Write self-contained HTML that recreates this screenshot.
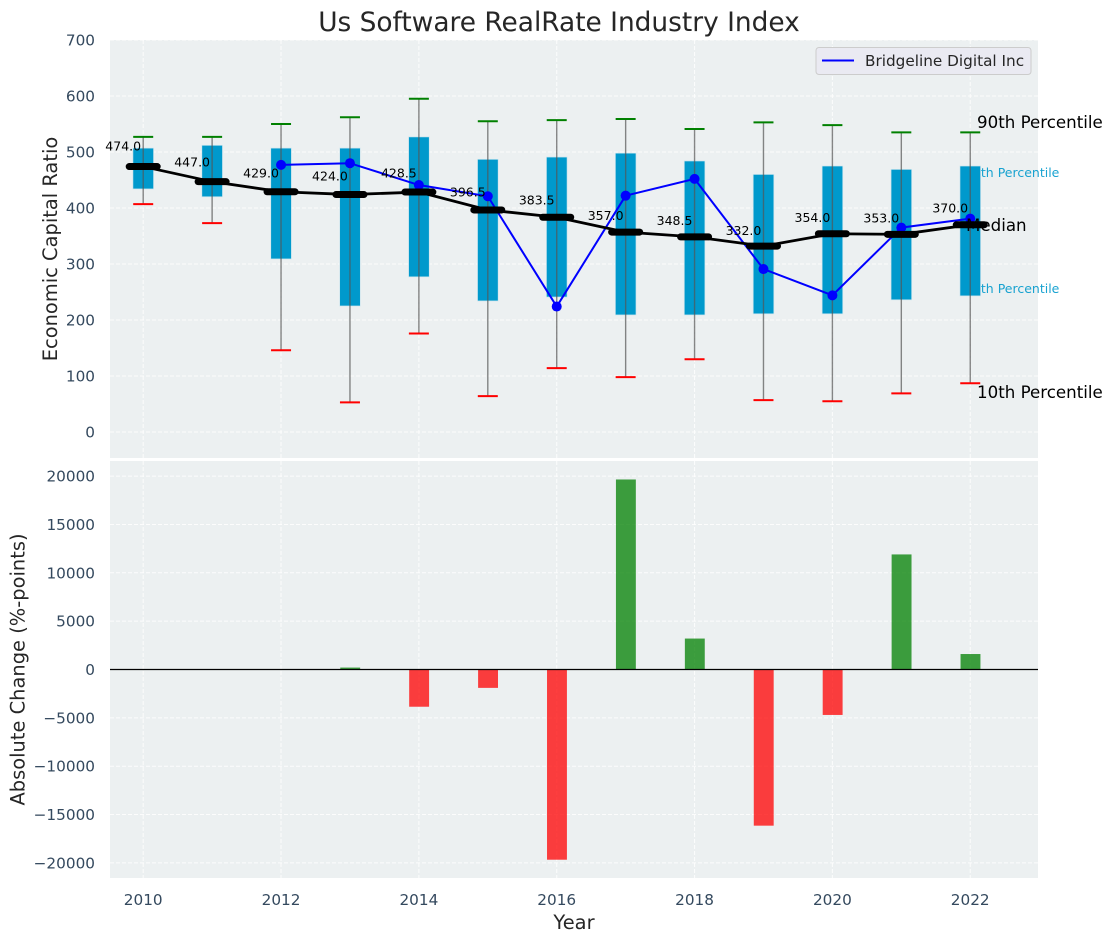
<!DOCTYPE html>
<html>
<head>
<meta charset="utf-8">
<title>Us Software RealRate Industry Index</title>
<style>
html,body{margin:0;padding:0;background:#fff;}
svg{display:block;font-family:"DejaVu Sans","Liberation Sans",sans-serif;}
</style>
</head>
<body>
<svg id="chart" xmlns="http://www.w3.org/2000/svg" width="1112" height="942" viewBox="0 0 1112 942">
  <rect x="0" y="0" width="1112" height="942" fill="#ffffff"/>
  <rect x="110" y="40" width="928" height="418" fill="#ecf0f1"/>
  <rect x="110" y="461" width="928" height="417" fill="#ecf0f1"/>
  <g id="grid"></g>
  <g id="behind">
    <text x="965" y="177" font-size="12.5" fill="#0099cc" fill-opacity="0.9">75th Percentile</text>
    <text x="965" y="293" font-size="12.5" fill="#0099cc" fill-opacity="0.9">25th Percentile</text>
  </g>
  <g id="marks"></g>
  <g id="bars"></g>
  <line x1="110" x2="1038" y1="669.5" y2="669.5" stroke="#000" stroke-width="1.3"/>
  <g id="ticks" font-size="15.28" fill="#34495e"></g>
  <text x="559" y="31" font-size="26.4" text-anchor="middle" fill="#262626">Us Software RealRate Industry Index</text>
  <text transform="translate(57,249) rotate(-90)" font-size="19.44" text-anchor="middle" fill="#262626">Economic Capital Ratio</text>
  <text transform="translate(24.5,669.5) rotate(-90)" font-size="19.44" text-anchor="middle" fill="#262626">Absolute Change (%-points)</text>
  <text x="574" y="929" font-size="19.44" text-anchor="middle" fill="#262626">Year</text>
  <text x="977" y="128" font-size="16.67" fill="#000">90th Percentile</text>
  <text x="966" y="231" font-size="16.67" fill="#000">Median</text>
  <text x="977" y="398" font-size="16.67" fill="#000">10th Percentile</text>
  <g>
    <rect x="816" y="47.5" width="215" height="27" rx="3" fill="#eaeaf2" stroke="#cccccc" stroke-width="1"/>
    <line x1="822" x2="854" y1="60.5" y2="60.5" stroke="#0000ff" stroke-width="2"/>
    <text x="865" y="66" font-size="15.28" fill="#262626">Bridgeline Digital Inc</text>
  </g>
</svg>
<script>
const years = [2010,2011,2012,2013,2014,2015,2016,2017,2018,2019,2020,2021,2022];
const p90 = [527,527,550,562,595,555,557,559,541,553,548,535,535];
const p75 = [507,512,507,507,527,487,491,498,484,460,475,469,475];
const medians = [474,447,429,424,428.5,396.5,383.5,357,348.5,332,354,353,370];
const p25 = [434,420,309,225,277,234,241,209,209,211,211,236,243];
const p10 = [407,373,146,53,176,64,114,98,130,57,55,69,87];
const companyYears = [2012,2013,2014,2015,2016,2017,2018,2019,2020,2021,2022];
const companyValues = [477,480,441,421,224,422,452,291,244,365,381];
const changeYears = [2013,2014,2015,2016,2017,2018,2019,2020,2021,2022];
const changeValues = [200,-3850,-1900,-19670,19650,3200,-16150,-4700,11900,1600];
const xTickLabels = [2010,2012,2014,2016,2018,2020,2022];
const topTickLabels = [0,100,200,300,400,500,600,700];
const bottomTickLabels = [-20000,-15000,-10000,-5000,0,5000,10000,15000,20000];

const SVGNS = 'http://www.w3.org/2000/svg';
function xPos(v){ return 143.2 + (v - 2010) * 68.92; }
function yTop(v){ return 432 - v * 0.56; }
function yBottom(v){ return 669.5 - v * 0.00967; }
function make(parent, tag, attrs){
  const el = document.createElementNS(SVGNS, tag);
  for (const k in attrs) el.setAttribute(k, attrs[k]);
  parent.appendChild(el);
  return el;
}
const grid = document.getElementById('grid');
const marks = document.getElementById('marks');
const barsG = document.getElementById('bars');
const ticks = document.getElementById('ticks');
const gridStyle = {stroke:'#ffffff','stroke-width':1,'stroke-dasharray':'4 2',opacity:0.85};

xTickLabels.forEach(function(v){
  [[40,458],[461,878]].forEach(function(r){
    const g = make(grid,'line',Object.assign({x1:xPos(v),x2:xPos(v),y1:r[0],y2:r[1]},gridStyle));
    
    
  });
  const t = make(ticks,'text',{x:xPos(v),y:905,'text-anchor':'middle'});
  t.textContent = v;
  
  
});
topTickLabels.forEach(function(v){
  const g = make(grid,'line',Object.assign({x1:110,x2:1038,y1:yTop(v),y2:yTop(v)},gridStyle));
  
  
  const t = make(ticks,'text',{x:95,y:yTop(v)+5.5,'text-anchor':'end'});
  t.textContent = v;
  
  
});
bottomTickLabels.forEach(function(v){
  const g = make(grid,'line',Object.assign({x1:110,x2:1038,y1:yBottom(v),y2:yBottom(v)},gridStyle));
  
  
  const t = make(ticks,'text',{x:95,y:yBottom(v)+5.5,'text-anchor':'end'});
  t.textContent = String(v).replace('-','\u2212');
  
  
});

const yearWidth = 68.92;
years.forEach(function(y,i){
  const cx = xPos(y);
  const box = make(marks,'rect',{x:cx-10.3,y:yTop(p75[i]),width:0.3*yearWidth,height:yTop(p25[i])-yTop(p75[i]),fill:'#0099cc',stroke:'#cfe6ee','stroke-width':0.7});
  
  
});
years.forEach(function(y,i){
  const cx = xPos(y);
  const w = make(marks,'line',{x1:cx,x2:cx,y1:yTop(p90[i]),y2:yTop(p10[i]),stroke:'#555555','stroke-width':1.4,opacity:0.7});
  
  
  const capHi = make(marks,'line',{x1:cx-10,x2:cx+10,y1:yTop(p90[i]),y2:yTop(p90[i]),stroke:'#008000','stroke-width':2});
  
  
  const capLo = make(marks,'line',{x1:cx-10,x2:cx+10,y1:yTop(p10[i]),y2:yTop(p10[i]),stroke:'#ff0000','stroke-width':2});
  
  
});

const companyLine = make(marks,'polyline',{points:companyYears.map(function(y,i){return xPos(y)+','+yTop(companyValues[i]);}).join(' '),fill:'none',stroke:'#0000ff','stroke-width':2});


companyYears.forEach(function(y,i){
  const c = make(marks,'circle',{cx:xPos(y),cy:yTop(companyValues[i]),r:5,fill:'#0000ff'});
  
  
});

const medianLine = make(marks,'polyline',{points:years.map(function(y,i){return xPos(y)+','+yTop(medians[i]);}).join(' '),fill:'none',stroke:'#000000','stroke-width':2.8});


years.forEach(function(y,i){
  const cx = xPos(y);
  const m = make(marks,'line',{x1:cx-14,x2:cx+14,y1:yTop(medians[i]),y2:yTop(medians[i]),stroke:'#000000','stroke-width':7,'stroke-linecap':'round'});
  
  
  const t = make(marks,'text',{x:cx-20,y:yTop(medians[i]*1.06),'text-anchor':'middle','font-size':12.5,fill:'#000'});
  t.textContent = medians[i].toFixed(1);
  
  
});

changeYears.forEach(function(y,i){
  const v = changeValues[i];
  const top = Math.min(yBottom(v), yBottom(0));
  const h = Math.abs(yBottom(v) - yBottom(0));
  const b = make(barsG,'rect',{x:xPos(y)-9.7,y:top,width:19.9,height:h,fill:v>=0?'#008000':'#ff0000','fill-opacity':0.75});
  
  
});
</script>
</body>
</html>
